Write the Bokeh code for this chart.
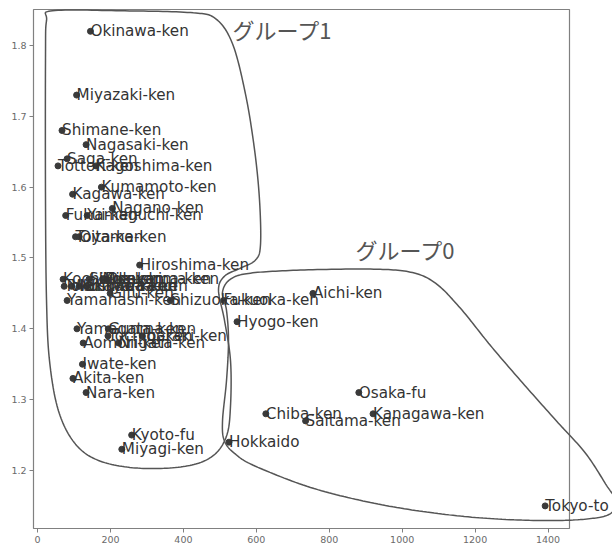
import numpy as np
from bokeh.plotting import figure
from bokeh.models import Range1d, Label, ColumnDataSource, FixedTicker
from bokeh.core.properties import value
from bokeh.embed import file_html
from bokeh.resources import INLINE

# Prefectures in JIS order
prefectures = [
    "Hokkaido", "Aomori-ken", "Iwate-ken", "Miyagi-ken", "Akita-ken", "Yamagata-ken",
    "Fukushima-ken", "Ibaraki-ken", "Tochigi-ken", "Gunma-ken", "Saitama-ken", "Chiba-ken",
    "Tokyo-to", "Kanagawa-ken", "Niigata-ken", "Toyama-ken", "Ishikawa-ken", "Fukui-ken",
    "Yamanashi-ken", "Nagano-ken", "Gifu-ken", "Shizuoka-ken", "Aichi-ken", "Mie-ken",
    "Shiga-ken", "Kyoto-fu", "Osaka-fu", "Hyogo-ken", "Nara-ken", "Wakayama-ken",
    "Tottori-ken", "Shimane-ken", "Okayama-ken", "Hiroshima-ken", "Yamaguchi-ken",
    "Tokushima-ken", "Kagawa-ken", "Ehime-ken", "Kochi-ken", "Fukuoka-ken", "Saga-ken",
    "Nagasaki-ken", "Kumamoto-ken", "Oita-ken", "Miyazaki-ken", "Kagoshima-ken", "Okinawa-ken",
]

# Population (10,000 people)
population = [
    525, 125, 123, 231, 97, 108,
    185, 287, 193, 194, 735, 626,
    1392, 920, 222, 104, 114, 77,
    81, 205, 199, 364, 755, 178,
    141, 258, 881, 547, 133, 93,
    56, 67, 189, 280, 136,
    73, 96, 134, 70, 510, 81,
    133, 175, 114, 107, 160, 145,
]

# Total fertility rate
fertility = [
    1.24, 1.38, 1.35, 1.23, 1.33, 1.40,
    1.47, 1.39, 1.39, 1.40, 1.27, 1.28,
    1.15, 1.28, 1.38, 1.53, 1.46, 1.56,
    1.44, 1.57, 1.45, 1.44, 1.45, 1.47,
    1.47, 1.25, 1.31, 1.41, 1.31, 1.46,
    1.63, 1.68, 1.47, 1.49, 1.56,
    1.46, 1.59, 1.46, 1.47, 1.44, 1.64,
    1.66, 1.60, 1.53, 1.73, 1.63, 1.82,
]

x_ticks = [0, 200, 400, 600, 800, 1000, 1200, 1400]
y_ticks = [1.2, 1.3, 1.4, 1.5, 1.6, 1.7, 1.8]

group_titles = ["グループ1", "グループ0"]

# Hand-drawn outlines around the two clusters (data units)
group1_outline_x = [40.9, 227.4, 419.4, 487.9, 534.6, 570.2, 594.9, 608.6, 611.3, 597.6,
                    556.5, 512.6, 496.2, 512.6, 529.1, 529.1, 518.1, 479.7, 405.7, 282.2,
                    172.5, 104.0, 57.4, 32.7, 24.5, 21.7, 21.7, 24.5]
group1_outline_y = [1.849, 1.849, 1.8464, 1.8379, 1.8024, 1.7314, 1.6533, 1.5823, 1.5184, 1.4971,
                    1.4857, 1.4743, 1.4545, 1.4119, 1.3551, 1.2912, 1.2486, 1.2202, 1.2060, 1.2031,
                    1.2131, 1.2372, 1.2841, 1.3551, 1.4403, 1.5823, 1.7811, 1.8350]

group0_outline_x = [507.1, 529.1, 583.9, 721.0, 913.0, 1022.7, 1091.3, 1159.8, 1242.1, 1329.9,
                    1423.1, 1502.7, 1560.3, 1587.7, 1571.2, 1516.4, 1406.7, 1242.1, 1077.6, 913.0,
                    748.5, 597.6, 542.8, 512.6, 507.2, 518.1, 523.6, 518.1]
group0_outline_y = [1.4516, 1.4701, 1.4786, 1.4829, 1.4843, 1.4800, 1.4644, 1.4289, 1.3764, 1.3238,
                    1.2699, 1.2244, 1.1790, 1.1563, 1.1392, 1.1321, 1.1293, 1.1321, 1.1406, 1.1548,
                    1.1761, 1.2060, 1.2230, 1.2415, 1.2699, 1.3267, 1.3835, 1.4261]


def smooth_closed(xs, ys, steps=16):
    """Closed Catmull-Rom curve through the outline's vertices."""
    px = np.asarray(xs, float)
    py = np.asarray(ys, float)
    n = len(px)
    out_x, out_y = [], []
    t = np.linspace(0, 1, steps, endpoint=False)
    for i in range(n):
        p0, p1, p2, p3 = (i - 1) % n, i, (i + 1) % n, (i + 2) % n
        for a, out in ((px, out_x), (py, out_y)):
            c = 0.5 * (2 * a[p1] + (-a[p0] + a[p2]) * t
                       + (2 * a[p0] - 5 * a[p1] + 4 * a[p2] - a[p3]) * t ** 2
                       + (-a[p0] + 3 * a[p1] - 3 * a[p2] + a[p3]) * t ** 3)
            out.extend(c.tolist())
    out_x.append(out_x[0])
    out_y.append(out_y[0])
    return out_x, out_y


source = ColumnDataSource(data=dict(x=population, y=fertility, name=prefectures))

p = figure(
    width=612, height=546,
    x_range=Range1d(-11.2, 1458.8), y_range=Range1d(1.1181, 1.8508),
    output_backend="svg", toolbar_location=None,
    min_border_left=33, min_border_right=43, min_border_top=9, min_border_bottom=18,
    background_fill_color="white", border_fill_color="white",
)
p.grid.visible = False
p.outline_line_color = "#808080"
p.outline_line_width = 1.2

for ax in (p.xaxis, p.yaxis):
    ax.axis_line_color = None
    ax.major_tick_line_color = "#808080"
    ax.major_tick_out = 4
    ax.major_tick_in = 0
    ax.minor_tick_line_color = None
    ax.major_label_text_font = "DejaVu Sans"
    ax.major_label_text_font_size = "9.5px"
    ax.major_label_text_color = "#6a6a6a"
    ax.major_label_standoff = 3
p.xaxis.ticker = FixedTicker(ticks=x_ticks)
p.yaxis.ticker = FixedTicker(ticks=y_ticks)

p.scatter("x", "y", source=source, size=6, fill_color="#3a3a3a", line_color="#3a3a3a")

# Outlines and point labels may run past the frame, so they sit on the overlay level
for ox, oy in ((group1_outline_x, group1_outline_y), (group0_outline_x, group0_outline_y)):
    sx, sy = smooth_closed(ox, oy)
    p.line(sx, sy, line_color="#555555", line_width=1.5, level="overlay")

p.text("x", "y", text="name", source=source, level="overlay",
       text_font=value("DejaVu Sans"), text_font_size="15.2px",
       text_color="#333333", text_align="left", text_baseline="alphabetic")

for title, (tx, ty) in zip(group_titles, [(534.6, 1.8237), (871.9, 1.5127)]):
    p.add_layout(Label(x=tx, y=ty, text=title, text_font="Noto Sans CJK JP",
                       text_font_size="22px", text_color="#555555",
                       text_baseline="middle", text_align="left"))

open("out.html", "w").write(file_html(p, INLINE))
